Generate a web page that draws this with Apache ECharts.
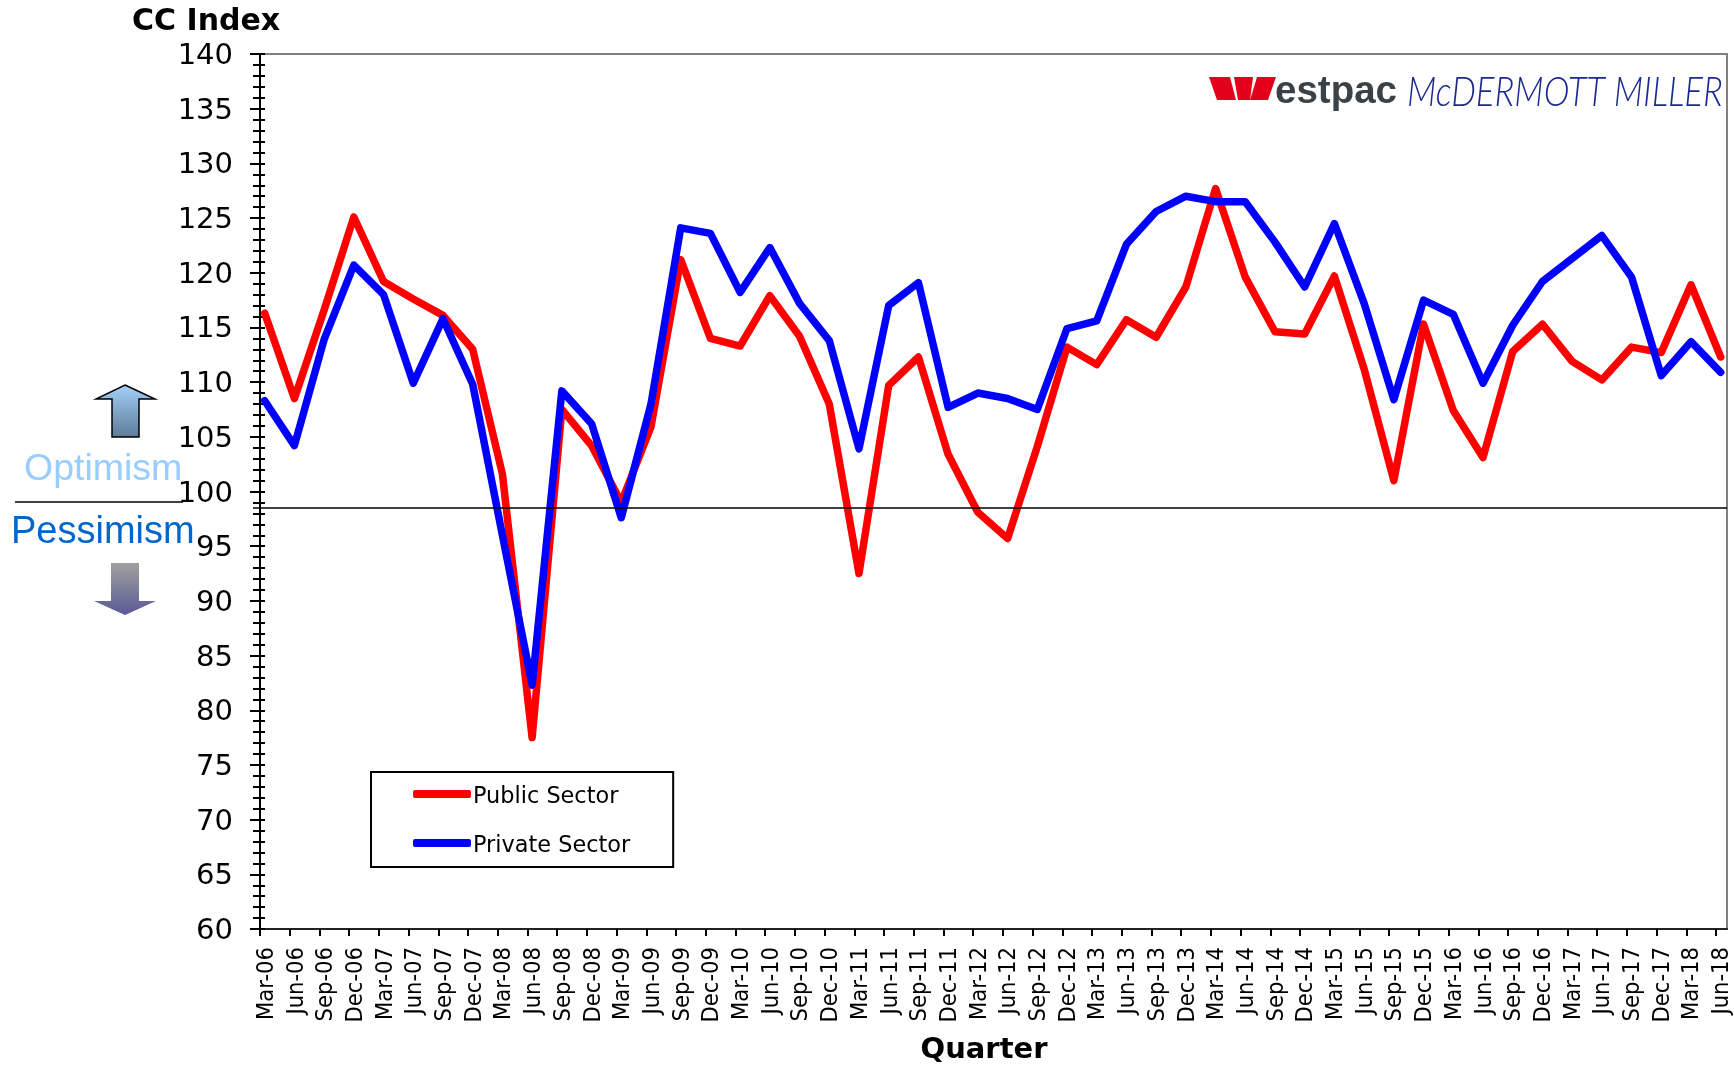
<!DOCTYPE html>
<html>
<head>
<meta charset="utf-8">
<title>CC Index</title>
<script src="https://cdn.jsdelivr.net/npm/echarts@6/dist/echarts.min.js"></script>
<style>
html, body { margin: 0; padding: 0; background: #fff; }
#main { width: 1734px; height: 1066px; }
</style>
</head>
<body>
<div id="main"></div>
<script>
var quarters = [
    'Mar-06','Jun-06','Sep-06','Dec-06','Mar-07','Jun-07','Sep-07','Dec-07','Mar-08','Jun-08',
    'Sep-08','Dec-08','Mar-09','Jun-09','Sep-09','Dec-09','Mar-10','Jun-10','Sep-10','Dec-10',
    'Mar-11','Jun-11','Sep-11','Dec-11','Mar-12','Jun-12','Sep-12','Dec-12','Mar-13','Jun-13',
    'Sep-13','Dec-13','Mar-14','Jun-14','Sep-14','Dec-14','Mar-15','Jun-15','Sep-15','Dec-15',
    'Mar-16','Jun-16','Sep-16','Dec-16','Mar-17','Jun-17','Sep-17','Dec-17','Mar-18','Jun-18'
];
var publicSector = [
    116.3,108.5,116.6,125.1,119.2,117.6,116.1,113.0,101.6,77.5,
    107.5,104.2,99.0,105.9,121.2,114.0,113.3,117.9,114.2,108.0,
    92.5,109.7,112.3,103.4,98.1,95.7,104.1,113.2,111.6,115.7,
    114.1,118.7,127.7,119.6,114.6,114.4,119.7,111.2,101.0,115.3,
    107.4,103.1,112.8,115.3,111.9,110.2,113.2,112.7,118.9,112.3
];
var privateSector = [
    108.3,104.2,113.9,120.7,118.0,109.9,115.8,109.8,96.0,82.3,
    109.2,106.2,97.6,108.0,124.1,123.6,118.2,122.3,117.2,113.8,
    103.9,117.0,119.1,107.7,109.0,108.5,107.5,114.9,115.6,122.6,
    125.6,127.0,126.5,126.5,122.8,118.7,124.5,117.2,108.4,117.5,
    116.2,109.9,115.2,119.2,121.3,123.4,119.6,110.6,113.7,110.9
];
var baseline = 98.5;
var yMin = 60, yMax = 140, yStep = 5;

var fontName = '"DejaVu Sans"';
var plotTop = 54, plotHeight = 875;

function hiddenY(gridIndex) {
    return { type: 'value', gridIndex: gridIndex, min: yMin, max: yMax, show: false };
}

var myChart = echarts.init(document.getElementById('main'));
var option = {
    animation: false,
    backgroundColor: '#fff',
    title: [
        { text: 'CC Index', left: 127, top: 2, textStyle: { fontFamily: fontName, fontSize: 30, fontWeight: 'bold', color: '#000' } },
        { text: 'Quarter', left: 979, top: 1031, textAlign: 'center', textStyle: { fontFamily: fontName, fontSize: 29, fontWeight: 'bold', color: '#000' } }
    ],
    legend: {
        orient: 'vertical',
        left: 371,
        top: 772,
        padding: [14, 43, 10, 42],
        itemGap: 27,
        itemWidth: 58,
        itemHeight: 8,
        icon: 'roundRect',
        borderColor: '#000',
        borderWidth: 2,
        selectedMode: false,
        data: ['Public Sector', 'Private Sector'],
        formatter: '{t|{name}}',
        textStyle: { rich: { t: { fontFamily: fontName, fontSize: 22.4, color: '#000', padding: [6, 0, 0, -3] } } }
    },
    // frame / x ticks / data / reference line / tick labels each sit a few px apart in the reference
    grid: [
        { left: 260, top: plotTop, width: 1467, height: plotHeight, show: true, borderColor: '#808080', borderWidth: 2, backgroundColor: 'transparent' },
        { left: 260, top: plotTop, width: 1456, height: plotHeight },
        { left: 264.7, top: plotTop, width: 1456, height: plotHeight },
        { left: 253, top: plotTop, width: 1474, height: plotHeight },
        { left: 266.7, top: plotTop + 2.5, width: 1456, height: plotHeight }
    ],
    xAxis: [
        { type: 'category', gridIndex: 0, data: [], axisTick: { show: false }, axisLabel: { show: false },
          axisLine: { lineStyle: { color: '#222', width: 2 } } },
        { type: 'category', gridIndex: 1, data: quarters, boundaryGap: false, axisLabel: { show: false },
          axisLine: { show: false },
          axisTick: { show: true, interval: 0, length: 7, lineStyle: { color: '#000', width: 2 } } },
        { type: 'category', gridIndex: 2, data: quarters, boundaryGap: false, show: false },
        { type: 'category', gridIndex: 3, data: ['a', 'b'], boundaryGap: false, show: false },
        { type: 'category', gridIndex: 4, data: quarters, boundaryGap: false, axisLine: { show: false }, axisTick: { show: false },
          axisLabel: { interval: 0, rotate: 90, margin: 15.5, fontFamily: '"DejaVu Sans Condensed", "DejaVu Sans"', fontSize: 23.5, color: '#000', showMinLabel: true, showMaxLabel: true } }
    ],
    yAxis: [
        { type: 'value', gridIndex: 0, min: yMin, max: yMax, interval: yStep, position: 'left',
          splitLine: { show: false },
          axisLine: { show: true, lineStyle: { color: '#000', width: 2 } },
          axisTick: { show: true, length: 10, lineStyle: { color: '#000', width: 2 } },
          minorTick: { show: true, splitNumber: 5, length: 7, lineStyle: { color: '#000', width: 2 } },
          axisLabel: { show: false } },
        { type: 'value', gridIndex: 0, min: yMin, max: yMax, interval: yStep, position: 'left',
          splitLine: { show: false },
          axisLine: { show: false },
          axisLabel: { show: false },
          axisTick: { show: true, inside: true, length: 5, lineStyle: { color: '#000', width: 2 } },
          minorTick: { show: true, splitNumber: 5, length: 5, lineStyle: { color: '#000', width: 2 } } },
        hiddenY(1),
        hiddenY(2),
        hiddenY(3),
        { type: 'value', gridIndex: 4, min: yMin, max: yMax, interval: yStep, position: 'left', offset: 6.7,
          splitLine: { show: false }, axisLine: { show: false }, axisTick: { show: false },
          axisLabel: { margin: 27, fontFamily: fontName, fontSize: 29, color: '#000' } }
    ],
    series: [
        { name: 'Public Sector', type: 'line', xAxisIndex: 2, yAxisIndex: 3, data: publicSector,
          symbol: 'none', z: 3,
          lineStyle: { color: '#ff0000', width: 7.5, cap: 'round', join: 'round' }, itemStyle: { color: '#ff0000' } },
        { name: 'Private Sector', type: 'line', xAxisIndex: 2, yAxisIndex: 3, data: privateSector,
          symbol: 'none', z: 4,
          lineStyle: { color: '#0000ff', width: 7.5, cap: 'round', join: 'round' }, itemStyle: { color: '#0000ff' } },
        { type: 'line', xAxisIndex: 3, yAxisIndex: 4, data: [baseline, baseline], symbol: 'none', z: 5,
          lineStyle: { color: '#000', width: 1.5 } }
    ],
    graphic: [
        // left hand side notes
        { type: 'text', left: 24, top: 451, style: { text: 'Optimism', fontFamily: '"Liberation Sans"', fontSize: 37.5, fill: '#99ccff' } },
        { type: 'text', left: 11, top: 514, style: { text: 'Pessimism', fontFamily: '"Liberation Sans"', fontSize: 38, fill: '#0066cc' } },
        { type: 'line', shape: { x1: 15, y1: 502, x2: 183, y2: 502 }, style: { stroke: '#000', lineWidth: 1.5 } },
        { type: 'polygon', shape: { points: [[125, 385], [155, 399], [139, 399], [139, 437], [112, 437], [112, 399], [96, 399]] },
          style: { stroke: '#000', lineWidth: 1.5,
            fill: new echarts.graphic.LinearGradient(0, 0, 0, 1, [{ offset: 0, color: '#a4d2fb' }, { offset: 1, color: '#5c7a96' }]) } },
        { type: 'polygon', shape: { points: [[111, 563], [139, 563], [139, 601], [156, 601], [125, 615], [94, 601], [111, 601]] },
          style: { fill: new echarts.graphic.LinearGradient(0, 0, 0, 1, [{ offset: 0, color: '#a0a0a0' }, { offset: 1, color: '#5a5a96' }]) } },
        // logo
        { type: 'polygon', shape: { points: [[1209, 77], [1230, 77], [1236, 100], [1217, 100]] }, style: { fill: '#e2001a' } },
        { type: 'polygon', shape: { points: [[1234, 77], [1253, 77], [1250, 100], [1238, 100]] }, style: { fill: '#e2001a' } },
        { type: 'polygon', shape: { points: [[1257, 77], [1276, 77], [1268, 100], [1250, 100]] }, style: { fill: '#e2001a' } },
        { type: 'text', left: 1275, top: 73, style: { text: 'estpac', fontFamily: '"Liberation Sans"', fontWeight: 'bold', fontSize: 38.5, fill: '#3a4248' } },
        { type: 'text', x: 1407, y: 72, scaleX: 0.85, style: { text: 'McDERMOTT MILLER', fontFamily: 'Lato', fontStyle: 'italic', fontWeight: 300, fontSize: 41, fill: '#1b2a8f' } }
    ]
};
myChart.setOption(option);
</script>
</body>
</html>
